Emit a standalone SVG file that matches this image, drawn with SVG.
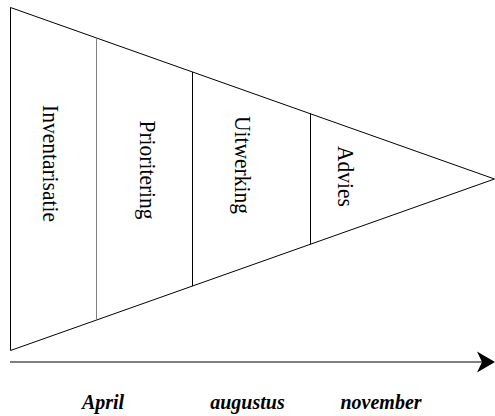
<svg xmlns="http://www.w3.org/2000/svg" width="495" height="416" viewBox="0 0 495 416">
  <style>
    .ln { stroke: #000; stroke-width: 1; fill: none; }
    .stage { font-family: "Liberation Serif", "Times New Roman", serif; font-size: 21.5px; fill: #000; text-anchor: middle; }
    .month { font-family: "Liberation Serif", "Times New Roman", serif; font-size: 20px; font-weight: bold; font-style: italic; fill: #000; text-anchor: middle; }
  </style>
  <rect width="495" height="416" fill="#fff"/>
  <g id="funnel">
    <polygon class="ln" points="10.5,7.5 494.5,179 10.5,350.5"/>
  </g>
  <g id="dividers">
    <line x1="96.5" y1="38" x2="96.5" y2="320" stroke="#808080" stroke-width="1"/>
    <line class="ln" x1="192.5" y1="72" x2="192.5" y2="286"/>
    <line class="ln" x1="310.5" y1="113.5" x2="310.5" y2="244"/>
  </g>
  <g id="inventarisatie">
    <text class="stage" transform="translate(43,163.5) rotate(90) scale(1,1.07)">Inventarisatie</text>
  </g>
  <g id="prioritering">
    <text class="stage" transform="translate(140,170) rotate(90) scale(1,1.07)">Prioritering</text>
  </g>
  <g id="uitwerking">
    <text class="stage" transform="translate(235,165) rotate(90) scale(1,1.07)">Uitwerking</text>
  </g>
  <g id="advies">
    <text class="stage" transform="translate(338,176.5) rotate(90) scale(1,1.07)">Advies</text>
  </g>
  <g id="connectors">
    <line class="ln" x1="10" y1="362" x2="482" y2="362"/>
    <path d="M495,362 L477,351.5 L482,362 L477,372.5 Z" fill="#000"/>
  </g>
  <g id="months">
    <text class="month" x="103" y="409">April</text>
    <text class="month" x="247.5" y="409">augustus</text>
    <text class="month" x="381" y="409">november</text>
  </g>
</svg>
